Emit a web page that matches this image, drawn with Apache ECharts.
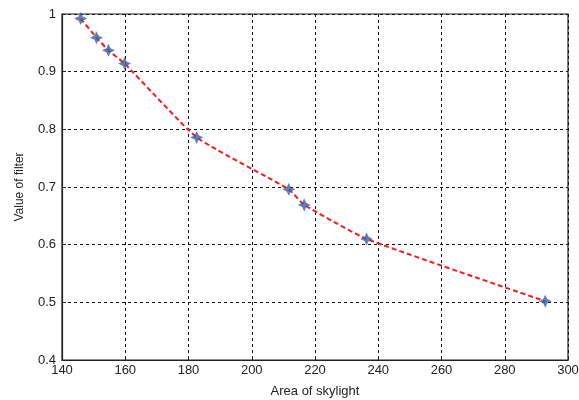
<!DOCTYPE html>
<html><head><meta charset="utf-8">
<script src="https://cdn.jsdelivr.net/npm/echarts@6/dist/echarts.min.js"></script>
<style>html,body{margin:0;padding:0;background:#fff}#c{width:579px;height:400px}</style>
</head><body><div id="c"></div>
<script>
const areaValues = [145.9, 150.9, 154.7, 159.8, 182.6, 211.7, 216.6, 236.3, 292.8];
const filterValues = [0.992, 0.959, 0.937, 0.914, 0.786, 0.696, 0.669, 0.610, 0.502];
const xTicks = [140, 160, 180, 200, 220, 240, 260, 280, 300];
const yTicks = [0.4, 0.5, 0.6, 0.7, 0.8, 0.9, 1];
const pts = areaValues.map((x, i) => [x, filterValues[i]]);
const font = 'Liberation Sans';
const chart = echarts.init(document.getElementById('c'));
chart.setOption({
  animation: false,
  grid: {left: 62, right: 11, top: 14, bottom: 40, show: true, borderColor: '#222', borderWidth: 1.2,
         containLabel: false, outerBoundsMode: 'none'},
  xAxis: {
    type: 'value', min: xTicks[0], max: xTicks[xTicks.length-1], interval: 20,
    name: 'Area of skylight', nameLocation: 'middle', nameGap: 25,
    nameTextStyle: {fontFamily: font, fontSize: 13, color: '#222'},
    axisLine: {lineStyle: {color: '#222', width: 1.2}},
    axisTick: {inside: true, length: 4, lineStyle: {color: '#222'}},
    axisLabel: {fontFamily: font, fontSize: 13, color: '#222', margin: 4},
    splitLine: {show: true, lineStyle: {color: '#111', type: [3, 3], width: 1}}
  },
  yAxis: {
    type: 'value', min: yTicks[0], max: yTicks[yTicks.length-1], interval: 0.1,
    name: 'Value of filter', nameLocation: 'middle', nameGap: 36, nameRotate: 90,
    nameTextStyle: {fontFamily: font, fontSize: 12, color: '#222'},
    axisLine: {show: true, lineStyle: {color: '#222', width: 1.2}},
    axisTick: {show: true, inside: true, length: 4, lineStyle: {color: '#222'}},
    axisLabel: {fontFamily: font, fontSize: 13, color: '#222', margin: 6,
      formatter: v => String(Math.round(v * 10) / 10)},
    splitLine: {show: true, lineStyle: {color: '#111', type: [3, 3], width: 1}}
  },
  series: [
    {type: 'line', data: pts, smooth: 0.15, symbol: 'none',
     lineStyle: {color: '#f21d1d', width: 2, type: [5, 3]}, z: 2},
    {type: 'scatter', data: pts, symbol: 'path://M0,-10 L3.2,-3.2 L10,0 L3.2,3.2 L0,10 L-3.2,3.2 L-10,0 L-3.2,-3.2Z',
     symbolSize: 13, itemStyle: {color: '#3a5ea8'}, z: 3}
  ]
});
</script></body></html>
